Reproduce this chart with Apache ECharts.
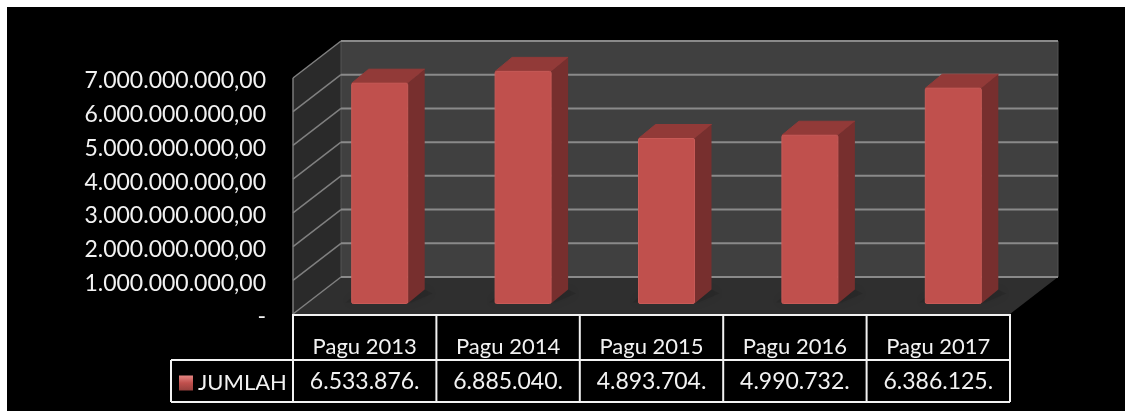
<!DOCTYPE html>
<html><head><meta charset="utf-8">
<style>
html,body{margin:0;padding:0;background:#fff;width:1125px;height:411px;overflow:hidden}
#panel{position:absolute;left:7px;top:7px;width:1118px;height:404px;background:#000}
#chart{position:absolute;left:0;top:0;width:1125px;height:411px}
</style>
<script src="https://cdn.jsdelivr.net/npm/echarts@6/dist/echarts.min.js"></script>
</head><body><div id="panel"></div><div id="chart"></div>
<script>
var categories = ['Pagu 2013','Pagu 2014','Pagu 2015','Pagu 2016','Pagu 2017'];
var jumlah = [6533876000, 6885040000, 4893704000, 4990732000, 6386125000];
var rowLabels = ['6.533.876.','6.885.040.','4.893.704.','4.990.732.','6.386.125.'];
var yTicks = [0,1e9,2e9,3e9,4e9,5e9,6e9,7e9];
var yTickLabels = ['-','1.000.000.000,00','2.000.000.000,00','3.000.000.000,00','4.000.000.000,00','5.000.000.000,00','6.000.000.000,00','7.000.000.000,00'];

var FONT = 'Lato, "Open Sans", sans-serif';
var DEPTH_X = 48, DEPTH_Y = 37;
var BAR_OFF_X = 15, BAR_OFF_Y = 10.5, BAR_HALF = 28, SIDE_X = 17, SIDE_Y = 14;
var ROW1 = 46, ROW2 = 88, HEAD_LEFT = 122;

function poly(points, fill, extra){
  return {type:'polygon', shape:{points:points}, style:Object.assign({fill:fill}, extra||{})};
}
function line(x1,y1,x2,y2,stroke,w){
  return {type:'line', shape:{x1:x1,y1:y1,x2:x2,y2:y2}, style:{stroke:stroke,lineWidth:w}};
}

function renderRoom(params, api){
  var band = api.size([1,0])[0];
  var l = api.coord([0,0])[0] - band/2, r = l + band*categories.length;
  var b = api.coord([0,0])[1], t = api.coord([0,yTicks[yTicks.length-1]])[1];
  var kids = [
    poly([[l+DEPTH_X,t-DEPTH_Y],[r+DEPTH_X,t-DEPTH_Y],[r+DEPTH_X,b-DEPTH_Y],[l+DEPTH_X,b-DEPTH_Y]],'#404040'),
    poly([[l,t],[l+DEPTH_X,t-DEPTH_Y],[l+DEPTH_X,b-DEPTH_Y],[l,b]],'#2a2a2a'),
    poly([[l,b],[l+DEPTH_X,b-DEPTH_Y],[r+DEPTH_X,b-DEPTH_Y],[r,b]],'#2f2f2f'),
    line(l,t,l,b,'#7a7a7a',1.5),
    line(l+DEPTH_X,t-DEPTH_Y,l+DEPTH_X,b-DEPTH_Y,'#555',1),
    line(r+DEPTH_X,t-DEPTH_Y,r+DEPTH_X,b-DEPTH_Y,'#555',1)
  ];
  yTicks.forEach(function(v){
    var y = api.coord([0,v])[1];
    kids.push(line(l,y,l+DEPTH_X,y-DEPTH_Y,'#808080',1.5));
    kids.push(line(l+DEPTH_X,y-DEPTH_Y,r+DEPTH_X,y-DEPTH_Y,'#8a8a8a',2));
  });
  return {type:'group', children:kids};
}

function renderBar(params, api){
  var i = api.value(0), v = api.value(1);
  var base = api.coord([i,0]), top = api.coord([i,v]);
  var cx = base[0]+BAR_OFF_X, xl = cx-BAR_HALF, xr = cx+BAR_HALF;
  var yb = base[1]-BAR_OFF_Y, yt = top[1]-BAR_OFF_Y;
  return {type:'group', children:[
    poly([[xl-6,yb-1],[xr+4,yb-1],[xr+SIDE_X+8,yb-SIDE_Y+4],[xr+SIDE_X,yb-SIDE_Y],[xl,yb-6]],'rgba(0,0,0,0.1)',{shadowBlur:10,shadowColor:'rgba(0,0,0,0.7)'}),
    poly([[xl,yt],[xl+SIDE_X,yt-SIDE_Y],[xr+SIDE_X,yt-SIDE_Y],[xr,yt]],'#923a38',{stroke:'#923a38',lineWidth:1,lineJoin:'round'}),
    poly([[xr,yt],[xr+SIDE_X,yt-SIDE_Y],[xr+SIDE_X,yb-SIDE_Y],[xr,yb]],'#772f2e'),
    {type:'rect', shape:{x:xl,y:yt,width:xr-xl,height:yb-yt,r:1.5}, style:{fill:'#c0504d',stroke:'#c85a57',lineWidth:1}}
  ]};
}

function renderTable(params, api){
  var band = api.size([1,0])[0];
  var l = api.coord([0,0])[0]-band/2, y0 = api.coord([0,0])[1];
  var r = l+band*categories.length, W='#f2f2f2', kids=[
    line(l,y0+1,r,y0+1,W,2),
    line(l-HEAD_LEFT,y0+ROW1,r,y0+ROW1,W,2),
    line(l-HEAD_LEFT,y0+ROW2,r,y0+ROW2,W,2),
    line(l-HEAD_LEFT,y0+ROW1,l-HEAD_LEFT,y0+ROW2,W,2)
  ];
  for(var k=0;k<=categories.length;k++){
    kids.push(line(l+band*k,y0,l+band*k,y0+ROW2,W,2));
  }
  return {type:'group', children:kids};
}

var chart = echarts.init(document.getElementById('chart'), null, {renderer:'canvas'});
chart.setOption({
  animation:false,
  backgroundColor:'transparent',
  grid:{left:293, top:78, width:717, height:236},
  legend:{
    data:[{name:'JUMLAH', icon:'rect', itemStyle:{color:new echarts.graphic.LinearGradient(0,0,0,1,[{offset:0,color:'#e58683'},{offset:0.5,color:'#c0504d'},{offset:1,color:'#97403d'}])}}],
    left:174, top:367, itemWidth:14, itemHeight:15, itemGap:6,
    textStyle:{color:'#f2f2f2', fontFamily:FONT, fontSize:22}
  },
  xAxis:[
    {type:'category', data:categories, position:'bottom',
     axisLine:{show:false}, axisTick:{show:false},
     axisLabel:{color:'#f2f2f2', fontFamily:FONT, fontSize:22, margin:22, interval:0}},
    {type:'category', data:rowLabels, position:'bottom', offset:46,
     axisLine:{show:false}, axisTick:{show:false},
     axisLabel:{color:'#f2f2f2', fontFamily:FONT, fontSize:23, margin:10, interval:0}}
  ],
  yAxis:{type:'value', min:0, max:7e9, interval:1e9,
    axisLine:{show:false}, axisTick:{show:false}, splitLine:{show:false},
    axisLabel:{color:'#f2f2f2', fontFamily:FONT, fontSize:23, margin:27, verticalAlign:'top', lineHeight:6,
      formatter:function(v){return yTickLabels[yTicks.indexOf(v)];}}
  },
  series:[
    {type:'custom', name:'room', silent:true, renderItem:renderRoom, data:[[0,0]], encode:{x:0,y:1}, z:1, clip:false},
    {type:'custom', name:'JUMLAH', renderItem:renderBar, itemStyle:{color:'#c0504d'},
     data:jumlah.map(function(v,i){return [i,v];}), encode:{x:0,y:1}, z:2, clip:false},
    {type:'custom', name:'table', silent:true, renderItem:renderTable, data:[[0,0]], encode:{x:0,y:1}, z:3, clip:false}
  ]
});
</script></body></html>
